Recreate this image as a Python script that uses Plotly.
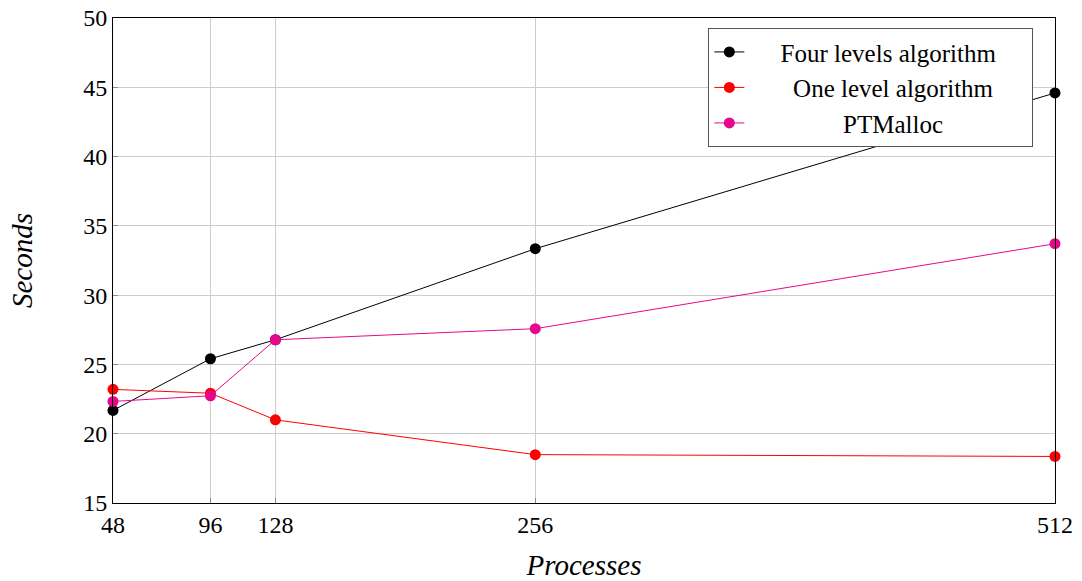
import plotly.graph_objects as go

processes = [48, 96, 128, 256, 512]
four_levels = [21.68, 25.41, 26.78, 33.35, 44.59]
one_level = [23.2, 22.92, 21.0, 18.49, 18.36]
ptmalloc = [22.33, 22.74, 26.78, 27.58, 33.71]

x_ticks = [48, 96, 128, 256, 512]
y_ticks = [15, 20, 25, 30, 35, 40, 45, 50]

FONT = "Liberation Serif, DejaVu Serif, serif"
NB = "\u00a0"

# legend labels padded so they sit centred in the box
series = [
    (NB * 5 + "Four levels algorithm" + NB * 5, four_levels, "#000000"),
    (NB * 7 + "One level algorithm", one_level, "#ff0000"),
    (NB * 15 + "PTMalloc", ptmalloc, "#e6088c"),
]

fig = go.Figure()
for name, vals, color in series:
    fig.add_trace(go.Scatter(
        x=processes, y=vals, name=name, mode="lines+markers",
        line=dict(color=color, width=1),
        marker=dict(color=color, size=11),
        cliponaxis=False,
    ))

axis_common = dict(
    showline=True, linecolor="black", linewidth=1, mirror=True,
    showgrid=True, gridcolor="#cccccc", gridwidth=1,
    ticks="inside", ticklen=5, tickcolor="#888888",
    zeroline=False, automargin=False,
    tickfont=dict(family=FONT, size=24, color="black"),
)

fig.update_xaxes(
    range=[48, 512], tickvals=x_ticks, ticktext=[str(v) for v in x_ticks],
    title=dict(text="<i>Processes</i>", font=dict(family=FONT, size=29, color="black"), standoff=18),
    **axis_common,
)
fig.update_yaxes(
    range=[15, 50], tickvals=y_ticks, ticktext=[str(v) for v in y_ticks],
    title=dict(text="<i>Seconds</i>", font=dict(family=FONT, size=29, color="black"), standoff=42),
    **axis_common,
)

fig.update_layout(
    width=1082, height=581,
    margin=dict(l=113, r=27, t=18, b=78),
    paper_bgcolor="white", plot_bgcolor="white",
    showlegend=True,
    legend=dict(
        x=0.977, y=0.979, xanchor="right", yanchor="top",
        bgcolor="white", bordercolor="#555555", borderwidth=1,
        font=dict(family=FONT, size=25, color="black"),
        tracegroupgap=0, itemwidth=30,
    ),
)

fig.write_html("out.html")
